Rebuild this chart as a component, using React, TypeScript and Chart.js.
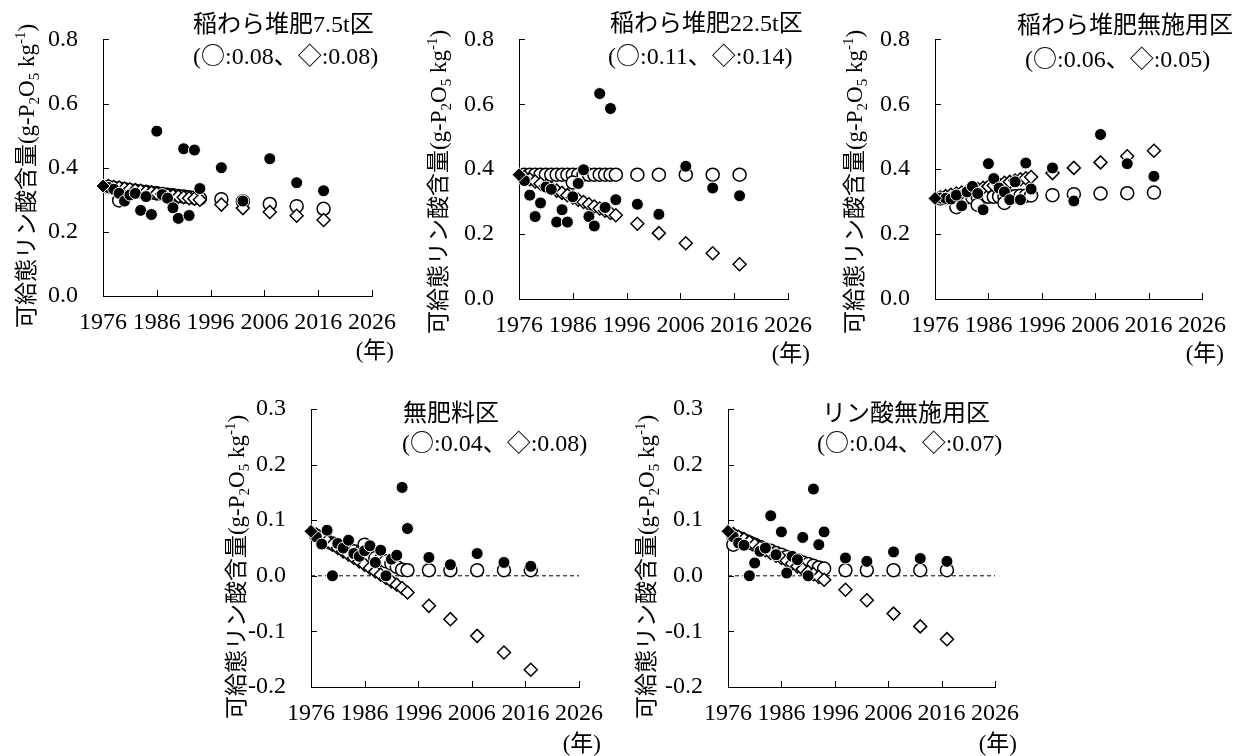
import React, { useEffect, useRef } from 'react';
import { Chart, registerables } from 'chart.js';

Chart.register(...registerables);

const CANVAS_W = 1249;
const CANVAS_H = 756;
const SERIF = "'Liberation Serif', 'Noto Sans CJK JP', serif";
const CJK = "'Noto Sans CJK JP', 'Liberation Serif', sans-serif";

// ---------- data ----------
const startYear = 1976;
const years = [1977, 1978, 1979, 1980, 1981, 1982, 1983, 1984, 1985, 1986, 1987, 1988, 1989, 1990, 1991, 1992, 1993, 1994, 1998, 2002, 2007, 2012, 2017];
const xTickValues = [1976, 1986, 1996, 2006, 2016, 2026];
const yTicksUpper = [0, 0.2, 0.4, 0.6, 0.8];
const yTicksLower = [-0.2, -0.1, 0, 0.1, 0.2, 0.3];
const zeroLineYears = [1976, 2026];
const zeroLineValues = [0, 0];

// Panel 1: 稲わら堆肥7.5t区
const p1Initial = 0.343;
const p1Measured = [0.338, 0.333, 0.320, 0.296, 0.315, 0.320, 0.267, 0.310, 0.254, 0.514, 0.316, 0.305, 0.275, 0.242, 0.459, 0.251, 0.455, 0.335, 0.400, 0.296, 0.428, 0.353, 0.328];
const p1Circle = [0.340, 0.337, 0.335, 0.333, 0.330, 0.328, 0.326, 0.324, 0.322, 0.320, 0.318, 0.316, 0.314, 0.312, 0.310, 0.308, 0.306, 0.304, 0.302, 0.295, 0.287, 0.280, 0.272];
const p1Diamond = [0.343, 0.340, 0.338, 0.335, 0.333, 0.330, 0.328, 0.325, 0.323, 0.320, 0.318, 0.315, 0.313, 0.310, 0.308, 0.305, 0.303, 0.300, 0.285, 0.274, 0.262, 0.250, 0.237];
const p1ExtraYears = [1979];
const p1ExtraCircle = [0.298];

// Panel 2: 稲わら堆肥22.5t区
const p2Initial = 0.383;
const p2Measured = [0.365, 0.320, 0.254, 0.296, 0.345, 0.338, 0.237, 0.275, 0.237, 0.315, 0.356, 0.398, 0.254, 0.225, 0.633, 0.282, 0.587, 0.306, 0.292, 0.261, 0.409, 0.342, 0.318];
const p2Circle = [0.383, 0.383, 0.383, 0.383, 0.383, 0.383, 0.383, 0.383, 0.383, 0.383, 0.383, 0.383, 0.383, 0.383, 0.383, 0.383, 0.383, 0.383, 0.383, 0.383, 0.383, 0.383, 0.383];
const p2Diamond = [0.376, 0.369, 0.362, 0.355, 0.348, 0.341, 0.334, 0.327, 0.320, 0.313, 0.306, 0.299, 0.292, 0.285, 0.279, 0.272, 0.265, 0.258, 0.232, 0.203, 0.172, 0.141, 0.107];
const p2ExtraYears = [1986];
const p2ExtraCircle = [0.359];

// Panel 3: 稲わら堆肥無施用区
const p3Initial = 0.310;
const p3Measured = [0.311, 0.310, 0.308, 0.320, 0.287, 0.330, 0.347, 0.325, 0.275, 0.417, 0.371, 0.342, 0.330, 0.306, 0.361, 0.306, 0.419, 0.339, 0.404, 0.302, 0.507, 0.417, 0.378];
const p3Circle = [0.310, 0.311, 0.311, 0.312, 0.312, 0.313, 0.313, 0.314, 0.314, 0.315, 0.315, 0.316, 0.316, 0.317, 0.317, 0.318, 0.318, 0.319, 0.320, 0.323, 0.325, 0.326, 0.328];
const p3Diamond = [0.313, 0.317, 0.321, 0.325, 0.328, 0.332, 0.336, 0.339, 0.343, 0.347, 0.350, 0.354, 0.358, 0.361, 0.365, 0.369, 0.372, 0.376, 0.388, 0.404, 0.421, 0.440, 0.457];
const p3ExtraYears = [1980, 1984, 1989];
const p3ExtraCircle = [0.283, 0.290, 0.296];

// Panel 4: 無肥料区
const p4Initial = 0.080;
const p4Measured = [0.070, 0.057, 0.082, 0.000, 0.058, 0.050, 0.064, 0.040, 0.035, 0.045, 0.054, 0.024, 0.046, 0.000, 0.030, 0.037, 0.159, 0.085, 0.033, 0.020, 0.040, 0.024, 0.017];
const p4Circle = [0.072, 0.066, 0.062, 0.058, 0.054, 0.050, 0.047, 0.044, 0.041, 0.038, 0.035, 0.032, 0.029, 0.026, 0.022, 0.016, 0.011, 0.010, 0.010, 0.010, 0.010, 0.010, 0.010];
const p4Diamond = [0.074, 0.068, 0.062, 0.056, 0.050, 0.044, 0.038, 0.032, 0.026, 0.020, 0.014, 0.008, 0.002, -0.004, -0.010, -0.016, -0.022, -0.030, -0.054, -0.078, -0.108, -0.138, -0.169];
const p4ExtraYears = [1986];
const p4ExtraCircle = [0.056];

// Panel 5: リン酸無施用区
const p5Initial = 0.080;
const p5Measured = [0.070, 0.059, 0.055, 0.000, 0.023, 0.044, 0.050, 0.108, 0.038, 0.079, 0.005, 0.035, 0.029, 0.069, 0.000, 0.156, 0.056, 0.079, 0.032, 0.026, 0.043, 0.031, 0.026];
const p5Circle = [0.072, 0.068, 0.064, 0.060, 0.056, 0.052, 0.048, 0.045, 0.041, 0.038, 0.034, 0.031, 0.028, 0.024, 0.021, 0.018, 0.015, 0.013, 0.010, 0.010, 0.010, 0.010, 0.010];
const p5Diamond = [0.075, 0.070, 0.066, 0.061, 0.056, 0.051, 0.046, 0.041, 0.036, 0.032, 0.027, 0.022, 0.017, 0.012, 0.007, 0.003, -0.002, -0.007, -0.025, -0.044, -0.068, -0.091, -0.114];
const p5ExtraYears = [1977];
const p5ExtraCircle = [0.056];

const panelNames = ['稲わら堆肥7.5t区', '稲わら堆肥22.5t区', '稲わら堆肥無施用区', '無肥料区', 'リン酸無施用区'];
const circleErrors = ['0.08', '0.11', '0.06', '0.04', '0.04'];
const diamondErrors = ['0.08', '0.14', '0.05', '0.08', '0.07'];

// ---------- layout ----------
type Layout = {
  L: number; T: number; R: number; B: number;
  t1x: number; t1y: number; t2x: number; t2y: number;
  ytx: number; yty: number; unitDy: number;
};

const layouts: Layout[] = [
  { L: 103, T: 18, R: 372, B: 296, t1x: 193, t1y: 32, t2x: 193, t2y: 64, ytx: 25, yty: 176, unitDy: 54 },
  { L: 519, T: 21, R: 788, B: 299, t1x: 610, t1y: 31, t2x: 608, t2y: 64, ytx: 437, yty: 182, unitDy: 54 },
  { L: 935, T: 21, R: 1202, B: 299, t1x: 1017, t1y: 33, t2x: 1025, t2y: 67, ytx: 853, yty: 182, unitDy: 54 },
  { L: 311, T: 409, R: 579, B: 687, t1x: 403, t1y: 421, t2x: 402, t2y: 451, ytx: 235, yty: 567, unitDy: 56 },
  { L: 728, T: 409, R: 995, B: 687, t1x: 822, t1y: 421, t2x: 817, t2y: 451, ytx: 645, yty: 567, unitDy: 56 },
];

type Spec = {
  layout: Layout;
  name: string;
  cErr: string;
  dErr: string;
  initial: number;
  measured: number[];
  circle: number[];
  diamond: number[];
  extraYears: number[];
  extraCircle: number[];
  yMin: number;
  yMax: number;
  yTicks: number[];
  zeroLine: boolean;
};

const specs: Spec[] = [
  { layout: layouts[0], name: panelNames[0], cErr: circleErrors[0], dErr: diamondErrors[0], initial: p1Initial, measured: p1Measured, circle: p1Circle, diamond: p1Diamond, extraYears: p1ExtraYears, extraCircle: p1ExtraCircle, yMin: 0, yMax: 0.8, yTicks: yTicksUpper, zeroLine: false },
  { layout: layouts[1], name: panelNames[1], cErr: circleErrors[1], dErr: diamondErrors[1], initial: p2Initial, measured: p2Measured, circle: p2Circle, diamond: p2Diamond, extraYears: p2ExtraYears, extraCircle: p2ExtraCircle, yMin: 0, yMax: 0.8, yTicks: yTicksUpper, zeroLine: false },
  { layout: layouts[2], name: panelNames[2], cErr: circleErrors[2], dErr: diamondErrors[2], initial: p3Initial, measured: p3Measured, circle: p3Circle, diamond: p3Diamond, extraYears: p3ExtraYears, extraCircle: p3ExtraCircle, yMin: 0, yMax: 0.8, yTicks: yTicksUpper, zeroLine: false },
  { layout: layouts[3], name: panelNames[3], cErr: circleErrors[3], dErr: diamondErrors[3], initial: p4Initial, measured: p4Measured, circle: p4Circle, diamond: p4Diamond, extraYears: p4ExtraYears, extraCircle: p4ExtraCircle, yMin: -0.2, yMax: 0.3, yTicks: yTicksLower, zeroLine: true },
  { layout: layouts[4], name: panelNames[4], cErr: circleErrors[4], dErr: diamondErrors[4], initial: p5Initial, measured: p5Measured, circle: p5Circle, diamond: p5Diamond, extraYears: p5ExtraYears, extraCircle: p5ExtraCircle, yMin: -0.2, yMax: 0.3, yTicks: yTicksLower, zeroLine: true },
];

// ---------- text helpers ----------
type Seg = { t: string; size?: number; dy?: number; fam?: string };

function segFont(s: Seg, base: number) {
  return `${s.size ?? base}px ${s.fam ?? SERIF}`;
}

function drawSegs(ctx: CanvasRenderingContext2D, segs: Seg[], x: number, y: number, align: 'left' | 'right' | 'center', base: number) {
  ctx.textBaseline = 'alphabetic';
  ctx.textAlign = 'left';
  let total = 0;
  const widths = segs.map((s) => {
    ctx.font = segFont(s, base);
    const w = ctx.measureText(s.t).width;
    total += w;
    return w;
  });
  let cx = align === 'left' ? x : align === 'right' ? x - total : x - total / 2;
  segs.forEach((s, i) => {
    ctx.font = segFont(s, base);
    ctx.fillText(s.t, cx, y + (s.dy ?? 0));
    cx += widths[i];
  });
}

const yTitleSegs: Seg[] = [
  { t: '可給態リン酸含量(g-P' },
  { t: '2', size: 15, dy: 5 },
  { t: 'O' },
  { t: '5', size: 15, dy: 5 },
  { t: ' kg' },
  { t: '-1', size: 15, dy: -9 },
  { t: ')' },
];

function drawVerticalTitle(ctx: CanvasRenderingContext2D, cx: number, cy: number) {
  ctx.save();
  ctx.translate(cx, cy);
  ctx.rotate(-Math.PI / 2);
  drawSegs(ctx, yTitleSegs, 0, 8.5, 'center', 23);
  ctx.restore();
}

const fmtY = (v: number) => (Math.abs(v) < 1e-9 ? '0.0' : v.toFixed(1));
const pts = (xs: number[], ys: number[]) => xs.map((x, i) => ({ x, y: ys[i] }));

function Panel({ spec }: { spec: Spec }) {
  const ref = useRef<HTMLCanvasElement>(null);
  useEffect(() => {
    const canvas = ref.current;
    if (!canvas) return;
    const lay = spec.layout;
    const Y_W = 70;
    const X_H = 60;

    const datasets: any[] = [
      {
        label: 'initial', data: [{ x: startYear, y: spec.initial }],
        pointStyle: 'rectRot', pointRadius: 7, backgroundColor: '#000', borderColor: '#fff', borderWidth: 1,
        showLine: false, order: 0, clip: false,
      },
      {
        label: 'measured', data: pts(years, spec.measured),
        pointStyle: 'circle', pointRadius: 6, backgroundColor: '#000', borderColor: '#fff', borderWidth: 1,
        showLine: false, order: 1, clip: false,
      },
      {
        label: 'diamond', data: pts(years, spec.diamond),
        pointStyle: 'rectRot', pointRadius: 6.5, backgroundColor: '#fff', borderColor: '#000', borderWidth: 1.5,
        showLine: false, order: 2, clip: false,
      },
      {
        label: 'circle', data: [...pts(years, spec.circle), ...pts(spec.extraYears, spec.extraCircle)],
        pointStyle: 'circle', pointRadius: 6.5, backgroundColor: '#fff', borderColor: '#000', borderWidth: 1.5,
        showLine: false, order: 3, clip: false,
      },
    ];
    if (spec.zeroLine) {
      datasets.push({
        label: 'zero', type: 'line', data: pts(zeroLineYears, zeroLineValues),
        borderColor: '#000', borderWidth: 1, borderDash: [4, 3], pointRadius: 0, showLine: true, fill: false, order: 4,
      });
    }

    const overlay = {
      id: 'overlay',
      beforeDatasetsDraw(chart: any) {
        const ctx: CanvasRenderingContext2D = chart.ctx;
        const { left, bottom } = chart.chartArea;
        const xs = chart.scales.x;
        const ys = chart.scales.y;
        ctx.save();
        ctx.strokeStyle = '#000';
        ctx.lineWidth = 1;
        ctx.beginPath();
        xTickValues.forEach((v) => {
          const px = Math.round(xs.getPixelForValue(v)) + 0.5;
          ctx.moveTo(px, bottom);
          ctx.lineTo(px, bottom - 6);
        });
        spec.yTicks.forEach((v) => {
          const py = Math.round(ys.getPixelForValue(v)) + 0.5;
          ctx.moveTo(left, py);
          ctx.lineTo(left + 6, py);
        });
        ctx.stroke();
        ctx.restore();
      },
      afterDraw(chart: any) {
        const ctx: CanvasRenderingContext2D = chart.ctx;
        const { right, bottom } = chart.chartArea;
        ctx.save();
        ctx.fillStyle = '#000';
        drawSegs(ctx, [{ t: spec.name }], lay.t1x, lay.t1y, 'left', 24);
        drawSegs(ctx, [
          { t: '(' }, { t: '○', fam: CJK }, { t: ':' + spec.cErr }, { t: '、', fam: CJK },
          { t: '◇', fam: CJK }, { t: ':' + spec.dErr }, { t: ')' },
        ], lay.t2x, lay.t2y, 'left', 24);
        drawSegs(ctx, [{ t: '(' }, { t: '年', fam: CJK }, { t: ')' }], right + 22, bottom + lay.unitDy + 8, 'right', 23);
        drawVerticalTitle(ctx, lay.ytx, lay.yty);
        ctx.restore();
      },
    };

    const chart = new Chart(canvas, {
      type: 'scatter',
      data: { datasets },
      options: {
        responsive: false,
        animation: false,
        devicePixelRatio: 1,
        events: [],
        layout: {
          padding: {
            left: lay.L - Y_W,
            top: lay.T,
            right: CANVAS_W - lay.R,
            bottom: CANVAS_H - lay.B - X_H,
          },
        },
        plugins: {
          legend: { display: false },
          tooltip: { enabled: false },
          title: { display: false },
        },
        scales: {
          x: {
            type: 'linear',
            position: 'bottom',
            min: 1976,
            max: 2026,
            afterBuildTicks: (s: any) => { s.ticks = xTickValues.map((v) => ({ value: v })); },
            afterFit: (s: any) => { s.height = X_H; },
            grid: { display: false, drawTicks: false },
            border: { display: true, color: '#000', width: 1 },
            ticks: {
              color: '#000', font: { family: SERIF, size: 24 }, padding: 12,
              maxRotation: 0, autoSkip: false, callback: (v: any) => String(v),
            },
          },
          y: {
            type: 'linear',
            position: 'left',
            min: spec.yMin,
            max: spec.yMax,
            afterBuildTicks: (s: any) => { s.ticks = spec.yTicks.map((v) => ({ value: v })); },
            afterFit: (s: any) => { s.width = Y_W; },
            grid: { display: false, drawTicks: false },
            border: { display: true, color: '#000', width: 1 },
            ticks: {
              color: '#000', font: { family: SERIF, size: 24 }, padding: 25,
              autoSkip: false, callback: (v: any) => fmtY(Number(v)),
            },
          },
        },
      } as any,
      plugins: [overlay],
    });
    return () => chart.destroy();
  }, [spec]);

  return (
    <canvas
      ref={ref}
      width={CANVAS_W}
      height={CANVAS_H}
      style={{ position: 'absolute', left: 0, top: 0, width: CANVAS_W, height: CANVAS_H }}
    />
  );
}

export default function App() {
  return (
    <div style={{ position: 'fixed', left: 0, top: 0, width: CANVAS_W, height: CANVAS_H, background: '#fff', overflow: 'hidden' }}>
      {specs.map((s, i) => (
        <Panel key={i} spec={s} />
      ))}
    </div>
  );
}
